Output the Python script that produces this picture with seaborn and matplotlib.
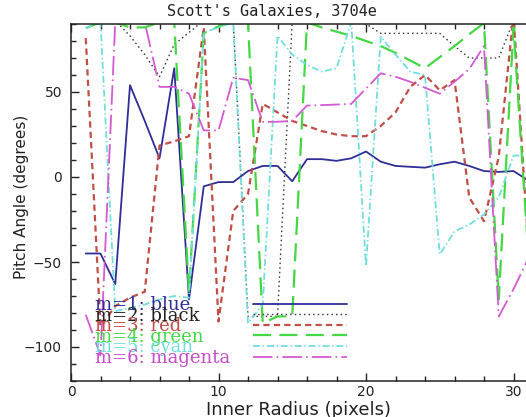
import numpy as np
import pandas as pd
import matplotlib
matplotlib.use("Agg")
import matplotlib.pyplot as plt
import seaborn as sns
from matplotlib.ticker import MultipleLocator

# --- datos ---
radius = list(range(1, 32))

m1_blue = [-45, -45, -63, 54, 33, 11, 64, -72, -5.5, -3, -3, 3.5, 6.5, 6.5, -2.5, 10.5,
           10.5, 9.5, 11, 15, 9, 6.5, 6, 5.5, 7.5, 9, 6.5, 3.5, 3, 3.5, -2]
m2_black = [92, 92, 92, 83, 72, 59, 78, 85, 92, 92, 92, -82, -82, -82, 92, 92,
            92, 92, 92, 90, 84.5, 84.5, 84.5, 84.5, 84.5, 77, 70, 70, 70, 92, 92]
m3_red = [81.7, -88, -76, -71, -67.5, 18.5, 21, 24, 88, -85, -20, -10, 43, 38, 33, 30,
          27, 25, 24, 24, 30, 38, 53, 60, 51, 57, -12, -26, 12, 95, -40]
m4_green = [87.6, 91, 91, 88, 88, 91, 91, -68, 84.6, 88.6, 91, 91, -86, -82, -82, 91,
            88, 85.5, 83, 80, 77, 73, 68.5, 64, 70.5, 77, 84, 90.5, -72, 88, -45]
m5_cyan = [87.6, 91, -79, -77, -75, -72, -70, -71, 85, 88, 91, -86, -75, 83, 72, 66,
           62, 64, 91, -52.5, 82.6, 72, 62, 60, -45.6, -32, -28, -22, -12, 12.6, 12.6]
m6_magenta = [-81, -105, 91, 91, 91, 53, 53, 49, 27.4, 27.4, 58.4, 57, 32.4, 32.5, 33, 42,
              42.3, 42.6, 43, 52, 61, 59, 56, 52.5, 49, 56, 63.5, 77, -82, -66, -48]

labels = ["m=1: blue", "m=2: black", "m=3: red", "m=4: green", "m=5: cyan", "m=6: magenta"]
series = [m1_blue, m2_black, m3_red, m4_green, m5_cyan, m6_magenta]
colors = ["#2e2e96", "#3a3a3a", "#c24e48", "#44d844", "#70dede", "#d45ad4"]
text_colors = ["#2e2e96", "#222222", "#c24e48", "#44d844", "#70dede", "#c84cc8"]
styles = [
    "-",
    (0, (1.1, 2.2)),
    (0, (4.5, 3.0)),
    (0, (13.0, 6.0)),
    (0, (5.0, 2.0, 1.0, 2.0)),
    (0, (14.0, 3.0, 1.2, 3.0)),
]
widths = [1.3, 1.0, 1.6, 1.6, 1.3, 1.3]

df = pd.concat(
    [pd.DataFrame({"radius": radius, "pitch": vals, "m": lab}) for lab, vals in zip(labels, series)],
    ignore_index=True,
)

sns.set_style("ticks")
plt.rcParams["font.family"] = ["DejaVu Sans"]
plt.rcParams["lines.scale_dashes"] = False

W, H = 526, 417
fig = plt.figure(figsize=(W / 100, H / 100), dpi=100)
ax = fig.add_axes([71 / W, (H - 381) / H, 35 * 14.75 / W, (381 - 24) / H])

handles = []
for lab, col, ls, lw in zip(labels, colors, styles, widths):
    sns.lineplot(data=df[df["m"] == lab], x="radius", y="pitch", color=col,
                 linestyle=ls, linewidth=lw, errorbar=None, ax=ax)
    handles.append(ax.get_lines()[-1])

ax.set_xlim(0, 35)
ax.set_ylim(-120, 90)
ax.xaxis.set_major_locator(MultipleLocator(10))
ax.xaxis.set_minor_locator(MultipleLocator(2))
ax.yaxis.set_major_locator(MultipleLocator(50))
ax.yaxis.set_minor_locator(MultipleLocator(10))
ax.tick_params(which="both", direction="in", top=True, right=True, colors="#222222",
               labelsize=10)
ax.tick_params(which="major", length=6, width=1.0)
ax.tick_params(which="minor", length=3.5, width=1.0)
ax.tick_params(axis="x", pad=3)
ax.tick_params(axis="y", pad=6.5)
for sp in ax.spines.values():
    sp.set_linewidth(1.1)
    sp.set_color("#222222")
ax.set_xlabel("")
ax.set_ylabel("")

fig.text(272 / W, 1 - 11 / H, "Scott's Galaxies, 3704e", ha="center", va="center",
         fontsize=11, family="DejaVu Sans Mono", color="#222222")
fig.text(299 / W, 1 - 401 / H, "Inner Radius (pixels)", ha="center", va="top",
         fontsize=13, color="#222222")
fig.text(22 / W, 1 - 197 / H, "Pitch Angle (degrees)", ha="center", va="center",
         rotation=90, fontsize=11, color="#222222")

# leyenda: textos a la izquierda, trazos a la derecha
leg_kw = dict(loc="upper left", bbox_transform=fig.transFigure, frameon=False,
              borderpad=0, borderaxespad=0, labelspacing=-0.41,
              prop={"family": "DejaVu Serif", "size": 13})
fig.legend(handles, labels, bbox_to_anchor=(95 / W, 1 - 296 / H),
           handlelength=0, handletextpad=0, labelcolor=text_colors, **leg_kw)
fig.legend(handles, [" "] * 6, bbox_to_anchor=(253 / W, 1 - 296 / H),
           handlelength=5.2, handletextpad=0, **leg_kw)

fig.savefig("out.png", dpi=100)
